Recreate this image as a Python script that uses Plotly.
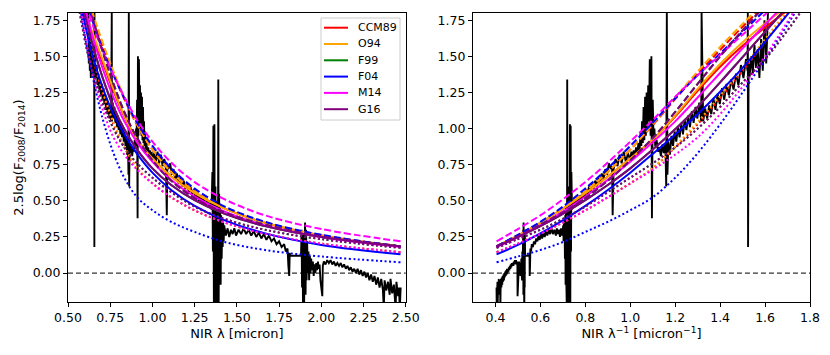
import plotly.graph_objects as go
from plotly.subplots import make_subplots

inv_grid = [0.405, 0.5, 0.6, 0.7, 0.8, 0.9, 1.0, 1.1, 1.2, 1.3, 1.4, 1.5, 1.6, 1.7, 1.8, 1.9]

# model curves, 2.5log(F2008/F2014) on inv_grid
ccm89_solid = [0.185, 0.260, 0.348, 0.446, 0.553, 0.669, 0.793, 0.924, 1.083, 1.261, 1.428, 1.573, 1.700, 1.818, 1.937, 2.064]
ccm89_dash = [0.185, 0.262, 0.350, 0.450, 0.565, 0.700, 0.855, 1.025, 1.205, 1.380, 1.545, 1.705, 1.860, 2.010, 2.160, 2.310]
ccm89_dot = [0.145, 0.204, 0.273, 0.350, 0.434, 0.525, 0.622, 0.725, 0.870, 1.030, 1.210, 1.400, 1.600, 1.800, 2.000, 2.200]

o94_solid = [0.185, 0.260, 0.348, 0.446, 0.553, 0.669, 0.793, 0.924, 1.090, 1.275, 1.447, 1.597, 1.728, 1.848, 1.968, 2.093]
o94_dash = [0.185, 0.262, 0.350, 0.450, 0.565, 0.700, 0.855, 1.030, 1.215, 1.395, 1.565, 1.725, 1.880, 2.030, 2.180, 2.330]
o94_dot = [0.145, 0.204, 0.273, 0.350, 0.434, 0.525, 0.622, 0.728, 0.878, 1.045, 1.228, 1.420, 1.620, 1.820, 2.020, 2.220]

# F99 sits underneath G16 everywhere in the reference
f99_solid = [0.185, 0.250, 0.325, 0.410, 0.505, 0.610, 0.725, 0.855, 0.995, 1.150, 1.320, 1.495, 1.670, 1.845, 2.020, 2.195]
f99_dash = [0.185, 0.255, 0.335, 0.420, 0.520, 0.640, 0.780, 0.935, 1.115, 1.310, 1.500, 1.680, 1.850, 2.010, 2.160, 2.310]
f99_dot = [0.175, 0.235, 0.300, 0.375, 0.460, 0.560, 0.660, 0.760, 0.870, 1.000, 1.150, 1.320, 1.480, 1.680, 1.900, 2.130]

f04_solid = [0.130, 0.195, 0.275, 0.365, 0.465, 0.575, 0.695, 0.825, 0.960, 1.100, 1.255, 1.420, 1.600, 1.790, 1.990, 2.200]
f04_dash = [0.185, 0.265, 0.355, 0.460, 0.585, 0.725, 0.880, 1.040, 1.210, 1.370, 1.520, 1.670, 1.820, 1.970, 2.120, 2.270]
f04_dot = [0.075, 0.115, 0.160, 0.215, 0.285, 0.355, 0.435, 0.525, 0.660, 0.830, 1.030, 1.250, 1.480, 1.720, 1.970, 2.230]

m14_solid = [0.180, 0.250, 0.330, 0.425, 0.530, 0.645, 0.770, 0.905, 1.050, 1.215, 1.385, 1.555, 1.720, 1.880, 2.040, 2.200]
m14_dash = [0.220, 0.305, 0.400, 0.510, 0.630, 0.765, 0.910, 1.060, 1.220, 1.370, 1.510, 1.650, 1.790, 1.930, 2.070, 2.210]
m14_dot = [0.145, 0.204, 0.273, 0.350, 0.434, 0.525, 0.620, 0.715, 0.820, 0.940, 1.100, 1.290, 1.500, 1.740, 1.990, 2.250]

g16_solid = [0.185, 0.250, 0.325, 0.410, 0.505, 0.610, 0.725, 0.855, 0.995, 1.150, 1.320, 1.495, 1.670, 1.845, 2.020, 2.195]
g16_dash = [0.185, 0.255, 0.335, 0.420, 0.520, 0.640, 0.780, 0.935, 1.115, 1.310, 1.500, 1.680, 1.850, 2.010, 2.160, 2.310]
g16_dot = [0.175, 0.235, 0.300, 0.375, 0.460, 0.560, 0.660, 0.760, 0.870, 1.000, 1.150, 1.320, 1.480, 1.680, 1.900, 2.130]

# observed colour difference spectrum
spec_wave = [
    0.620, 0.623, 0.626, 0.629, 0.632, 0.635, 0.638, 0.641, 0.644, 0.647, 0.650, 0.653,
    0.655, 0.656, 0.6565, 0.657,
    0.660, 0.665, 0.670, 0.675, 0.680, 0.685, 0.690, 0.695, 0.700, 0.705,
    0.710, 0.715, 0.720, 0.725, 0.730, 0.735, 0.740, 0.745, 0.750, 0.755,
    0.759, 0.760,
    0.765, 0.770, 0.775, 0.780, 0.785, 0.790, 0.795, 0.800, 0.805, 0.810,
    0.815, 0.820, 0.825, 0.830, 0.835, 0.840, 0.845, 0.850, 0.855, 0.858,
    0.860, 0.862, 0.865, 0.870, 0.875, 0.880, 0.885, 0.890, 0.895, 0.900,
    0.903, 0.906, 0.909, 0.912, 0.914, 0.917, 0.920, 0.923, 0.926, 0.929,
    0.932, 0.935, 0.938, 0.941, 0.944, 0.947, 0.950, 0.953, 0.956,
    0.960, 0.965, 0.970, 0.975, 0.980, 0.985, 0.990, 0.995, 1.000, 1.010,
    1.020, 1.030, 1.040, 1.050, 1.060, 1.070, 1.080, 1.085, 1.088,
    1.095, 1.105, 1.115, 1.125, 1.135, 1.145, 1.155, 1.165, 1.175, 1.185,
    1.195, 1.205, 1.215, 1.225, 1.235, 1.245, 1.255, 1.265, 1.275, 1.285,
    1.295, 1.305, 1.315, 1.325, 1.335, 1.345, 1.350,
    1.355, 1.358, 1.361, 1.364, 1.367, 1.370, 1.373, 1.376, 1.379, 1.382,
    1.385, 1.388, 1.390, 1.392, 1.395, 1.398, 1.401, 1.404, 1.407, 1.410,
    1.413, 1.416, 1.419, 1.422, 1.425,
    1.435, 1.445, 1.455, 1.465, 1.475, 1.485, 1.495, 1.510, 1.525, 1.540,
    1.555, 1.570, 1.585, 1.600, 1.615, 1.630, 1.645, 1.660, 1.675, 1.690,
    1.705, 1.720, 1.735, 1.750, 1.765, 1.780, 1.790, 1.800, 1.805, 1.810,
    1.813, 1.816,
    1.880, 1.883, 1.886, 1.889, 1.892, 1.895, 1.898, 1.901, 1.904, 1.907,
    1.910, 1.913, 1.916, 1.920, 1.924, 1.928, 1.932, 1.936, 1.940, 1.945,
    1.950, 1.955, 1.960, 1.965, 1.970, 1.975, 1.980, 1.985, 1.990, 1.995,
    2.000, 2.003, 2.006, 2.009,
    2.015, 2.025, 2.035, 2.045, 2.055, 2.065, 2.075, 2.085, 2.095, 2.105,
    2.115, 2.125, 2.135, 2.145, 2.155, 2.165, 2.175, 2.185, 2.195, 2.205,
    2.215, 2.225, 2.235, 2.245, 2.255, 2.265, 2.275, 2.285, 2.295, 2.305,
    2.315, 2.325, 2.335, 2.345, 2.355, 2.365,
    2.370, 2.375, 2.385, 2.395, 2.405, 2.410, 2.420, 2.430, 2.440, 2.445,
    2.455, 2.460, 2.465, 2.470,
]
spec_flux = [
    1.80, 1.45, 1.75, 1.40, 1.62, 1.35, 1.55, 1.42, 1.58, 1.38, 1.50, 1.36,
    1.45, 0.18, 1.80, 1.40,
    1.48, 1.35, 1.44, 1.30, 1.38, 1.27, 1.34, 1.23, 1.31, 1.20,
    1.28, 1.17, 1.24, 1.13, 1.21, 1.10, 1.16, 1.07, 1.14, 1.05,
    1.80, 1.05,
    1.18, 1.07, 1.15, 1.04, 1.12, 1.01, 1.09, 0.99, 1.06, 0.96,
    1.04, 0.94, 1.01, 0.91, 0.98, 0.88, 0.95, 0.82, 0.91, 0.68,
    1.80, 0.60, 0.90, 0.83, 0.89, 0.81, 0.87, 0.84, 0.92, 0.88,
    1.00, 0.92, 1.20, 0.38, 1.50, 0.95, 1.48, 1.05, 1.30, 1.00,
    1.25, 0.95, 1.22, 0.92, 1.15, 0.90, 1.05, 0.88, 0.98,
    0.85, 0.90, 0.82, 0.87, 0.80, 0.85, 0.79, 0.84, 0.78, 0.83,
    0.77, 0.84, 0.76, 0.82, 0.74, 0.79, 0.72, 0.40, 0.74,
    0.72, 0.76, 0.68, 0.72, 0.65, 0.69, 0.62, 0.66, 0.60, 0.64,
    0.58, 0.62, 0.56, 0.60, 0.54, 0.58, 0.52, 0.56, 0.50, 0.54,
    0.49, 0.52, 0.47, 0.50, 0.46, 0.49, 0.44,
    0.70, 0.15, 1.02, -0.30, 1.03, -0.30, 0.60, -0.30, 0.45, -0.30,
    0.50, -0.10, 1.34, -0.30, 0.55, -0.05, 0.45, -0.08, 0.40, 0.10,
    0.38, 0.18, 0.35, 0.22, 0.33,
    0.26, 0.31, 0.25, 0.30, 0.27, 0.31, 0.26, 0.30, 0.27, 0.31,
    0.27, 0.30, 0.26, 0.29, 0.25, 0.28, 0.24, 0.27, 0.23, 0.26,
    0.22, 0.24, 0.20, 0.22, 0.18, 0.20, 0.15, 0.17, 0.05, -0.02,
    0.14, 0.12,
    0.12, 0.30, -0.10, 0.25, -0.30, 0.28, -0.30, 0.20, 0.35, -0.15,
    0.30, -0.05, 0.22, 0.00, 0.15, -0.05, 0.12, 0.00, 0.10, 0.02,
    0.08, -0.02, 0.06, 0.00, 0.07, 0.02, 0.08, 0.03, 0.06, -0.05,
    -0.10, -0.15, -0.16, 0.05,
    0.08, 0.06, 0.09, 0.07, 0.09, 0.06, 0.08, 0.05, 0.07, 0.05,
    0.07, 0.04, 0.06, 0.03, 0.05, 0.02, 0.04, 0.01, 0.03, 0.00,
    0.03, -0.01, 0.02, -0.02, 0.01, -0.03, 0.00, -0.05, -0.01, -0.06,
    -0.02, -0.08, -0.03, -0.10, -0.04, -0.12,
    -0.25, -0.05, -0.12, -0.06, -0.15, -0.04, -0.14, -0.08, -0.25, -0.06,
    -0.16, -0.10, -0.25, -0.10,
]

models = ["CCM89", "O94", "F99", "F04", "M14", "G16"]
model_colors = ["red", "orange", "green", "blue", "magenta", "purple"]
model_curves = [
    (ccm89_solid, ccm89_dash, ccm89_dot),
    (o94_solid, o94_dash, o94_dot),
    (f99_solid, f99_dash, f99_dot),
    (f04_solid, f04_dash, f04_dot),
    (m14_solid, m14_dash, m14_dot),
    (g16_solid, g16_dash, g16_dot),
]
styles = ["solid", "7px,3px", "2px,2.5px"]

wave_grid = [1.0 / v for v in inv_grid]
spec_inv = [1.0 / w for w in spec_wave]

FONT = "DejaVu Sans"

fig = make_subplots(rows=1, cols=2)

panels = [(1, wave_grid, spec_wave), (2, inv_grid, spec_inv)]
for col, xgrid, xspec in panels:
    fig.add_trace(
        go.Scatter(x=xspec, y=spec_flux, mode="lines", line=dict(color="black", width=1.9),
                   showlegend=False, hoverinfo="skip"),
        row=1, col=col,
    )
    for name, color, curves in zip(models, model_colors, model_curves):
        for style, yvals in zip(styles, curves):
            fig.add_trace(
                go.Scatter(
                    x=xgrid, y=yvals, mode="lines", name=name, showlegend=False,
                    line=dict(color=color, width=2, dash=style, shape="spline", smoothing=1.0),
                ),
                row=1, col=col,
            )
    fig.add_hline(y=0, line=dict(color="black", width=1, dash="5px,3px"), layer="below", row=1, col=col)

# legend box drawn by hand so that its spacing follows the matplotlib one
W, H = 830.0, 355.0
box_l, box_r, box_t, box_b = 313, 392, 10, 112
fig.add_shape(type="rect", xref="paper", yref="paper",
              x0=box_l / W, x1=box_r / W, y0=1 - box_b / H, y1=1 - box_t / H,
              line=dict(color="#cccccc", width=1), fillcolor="rgba(255,255,255,0.8)", layer="above")
for i, (name, color) in enumerate(zip(models, model_colors)):
    yy = 19.7 + i * 16.3
    fig.add_shape(type="line", xref="paper", yref="paper",
                  x0=316 / W, x1=340 / W, y0=1 - yy / H, y1=1 - yy / H,
                  line=dict(color=color, width=2), layer="above")
    fig.add_annotation(x=348 / W, y=1 - yy / H, xref="paper", yref="paper", text=name,
                       showarrow=False, xanchor="left", yanchor="middle",
                       font=dict(family=FONT, size=11, color="black"))

axis_common = dict(
    showline=True, linecolor="black", linewidth=1, mirror=True,
    ticks="outside", ticklen=4, tickcolor="black", tickwidth=1,
    showgrid=False, zeroline=False, automargin=False,
    tickfont=dict(family=FONT, size=12.5, color="black"),
    title_font=dict(family=FONT, size=13, color="black"),
)

fig.update_xaxes(axis_common)
fig.update_yaxes(axis_common)

fig.update_layout(
    xaxis=dict(domain=[0.0723, 0.4792], range=[0.4999, 2.5001], tick0=0.5, dtick=0.25, tickformat=".2f",
               title=dict(text="NIR λ [micron]", standoff=4)),
    xaxis2=dict(domain=[0.5602, 0.9663], range=[0.3, 1.8001], tick0=0.4, dtick=0.2, tickformat=".1f",
                title=dict(text="NIR λ<sup>−1</sup> [micron<sup>−1</sup>]", standoff=4)),
    yaxis=dict(domain=[0.1718, 0.9859], range=[-0.2, 1.8], tick0=0, dtick=0.25, tickformat=".2f",
               title=dict(text="2.5log(F<sub>2008</sub>/F<sub>2014</sub>)", standoff=6)),
    yaxis2=dict(domain=[0.1718, 0.9859], range=[-0.2, 1.8], tick0=0, dtick=0.25, tickformat=".2f"),
    width=830, height=355,
    margin=dict(l=0, r=0, t=0, b=0),
    paper_bgcolor="white", plot_bgcolor="white",
    font=dict(family=FONT, size=12, color="black"),
    showlegend=False,
)

fig.write_html("out.html")
